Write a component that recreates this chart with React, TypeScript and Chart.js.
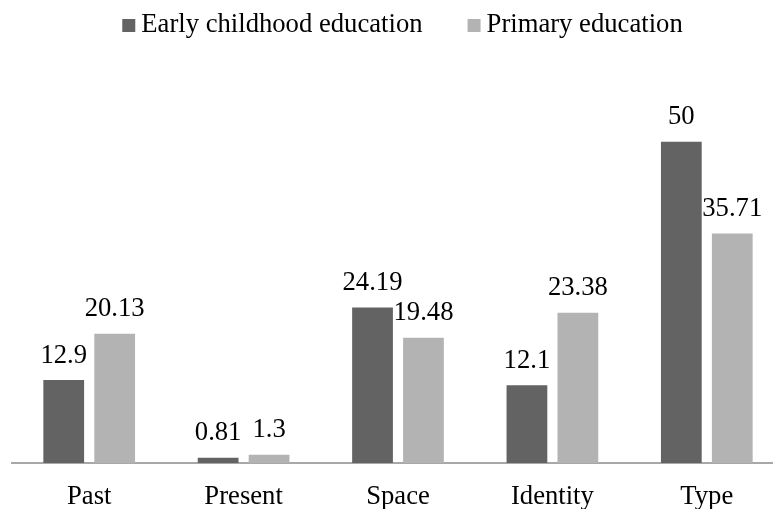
import React, { useEffect, useRef } from "react";
import { Chart, registerables } from "chart.js";

Chart.register(...registerables);

const categories = ["Past", "Present", "Space", "Identity", "Type"];
const earlyChildhood = [12.9, 0.81, 24.19, 12.1, 50];
const primary = [20.13, 1.3, 19.48, 23.38, 35.71];
const seriesNames = ["Early childhood education", "Primary education"];
const seriesColors = ["#636363", "#b3b3b3"];

const FONT = "'Liberation Serif', 'Times New Roman', serif";
const FONT_SIZE = 26.67;

const labelPlugin = {
  id: "valueLabels",
  afterDatasetsDraw(chart: any) {
    const ctx = chart.ctx;
    ctx.save();
    ctx.font = `${FONT_SIZE}px ${FONT}`;
    ctx.fillStyle = "#000";
    ctx.textAlign = "center";
    ctx.textBaseline = "alphabetic";
    chart.data.datasets.forEach((ds: any, i: number) => {
      const meta = chart.getDatasetMeta(i);
      meta.data.forEach((bar: any, j: number) => {
        ctx.fillText(String(ds.data[j]), bar.x, bar.y - 17.5);
      });
    });
    ctx.restore();
  },
};

const legendPlugin = {
  id: "customLegend",
  afterDraw(chart: any) {
    const ctx = chart.ctx;
    ctx.save();
    ctx.font = `${FONT_SIZE}px ${FONT}`;
    ctx.textBaseline = "alphabetic";
    ctx.textAlign = "left";
    const box = 13;
    const gapText = 6;
    const gapItem = 45;
    const widths = seriesNames.map((n) => ctx.measureText(n).width);
    const total =
      widths.reduce((a, w) => a + box + gapText + w, 0) + gapItem * (seriesNames.length - 1);
    let x = 402.5 - total / 2;
    const baseline = 32;
    seriesNames.forEach((n, i) => {
      ctx.fillStyle = seriesColors[i];
      ctx.fillRect(x, baseline - box, box, box);
      x += box + gapText;
      ctx.fillStyle = "#000";
      ctx.fillText(n, x, baseline);
      x += widths[i] + gapItem;
    });
    ctx.restore();
  },
};

export default function App() {
  const ref = useRef<HTMLCanvasElement>(null);
  useEffect(() => {
    if (!ref.current) return;
    const chart = new Chart(ref.current, {
      type: "bar",
      data: {
        labels: categories,
        datasets: [
          {
            label: seriesNames[0],
            data: earlyChildhood,
            backgroundColor: seriesColors[0],
            categoryPercentage: 0.66,
            barPercentage: 0.8,
          },
          {
            label: seriesNames[1],
            data: primary,
            backgroundColor: seriesColors[1],
            categoryPercentage: 0.66,
            barPercentage: 0.8,
          },
        ],
      },
      options: {
        animation: false,
        responsive: false,
        maintainAspectRatio: false,
        layout: { padding: { top: 77.5, left: 12, right: 16, bottom: 0 } },
        plugins: { legend: { display: false }, tooltip: { enabled: false } },
        scales: {
          x: {
            grid: { display: false, drawTicks: false },
            border: { display: true, color: "#a8a8a8", width: 2 },
            ticks: {
              color: "#000",
              font: { family: FONT, size: FONT_SIZE },
              padding: 18,
            },
            afterFit(s: any) {
              s.height = 46;
            },
          },
          y: { display: false, min: 0, max: 60 },
        },
      },
      plugins: [labelPlugin, legendPlugin],
    });
    return () => chart.destroy();
  }, []);
  return (
    <div
      style={{
        position: "fixed",
        left: 0,
        top: 0,
        width: 773,
        height: 509,
        overflow: "hidden",
        background: "#fff",
      }}
    >
      <canvas ref={ref} width={800} height={509} style={{ width: 800, height: 509 }} />
    </div>
  );
}
